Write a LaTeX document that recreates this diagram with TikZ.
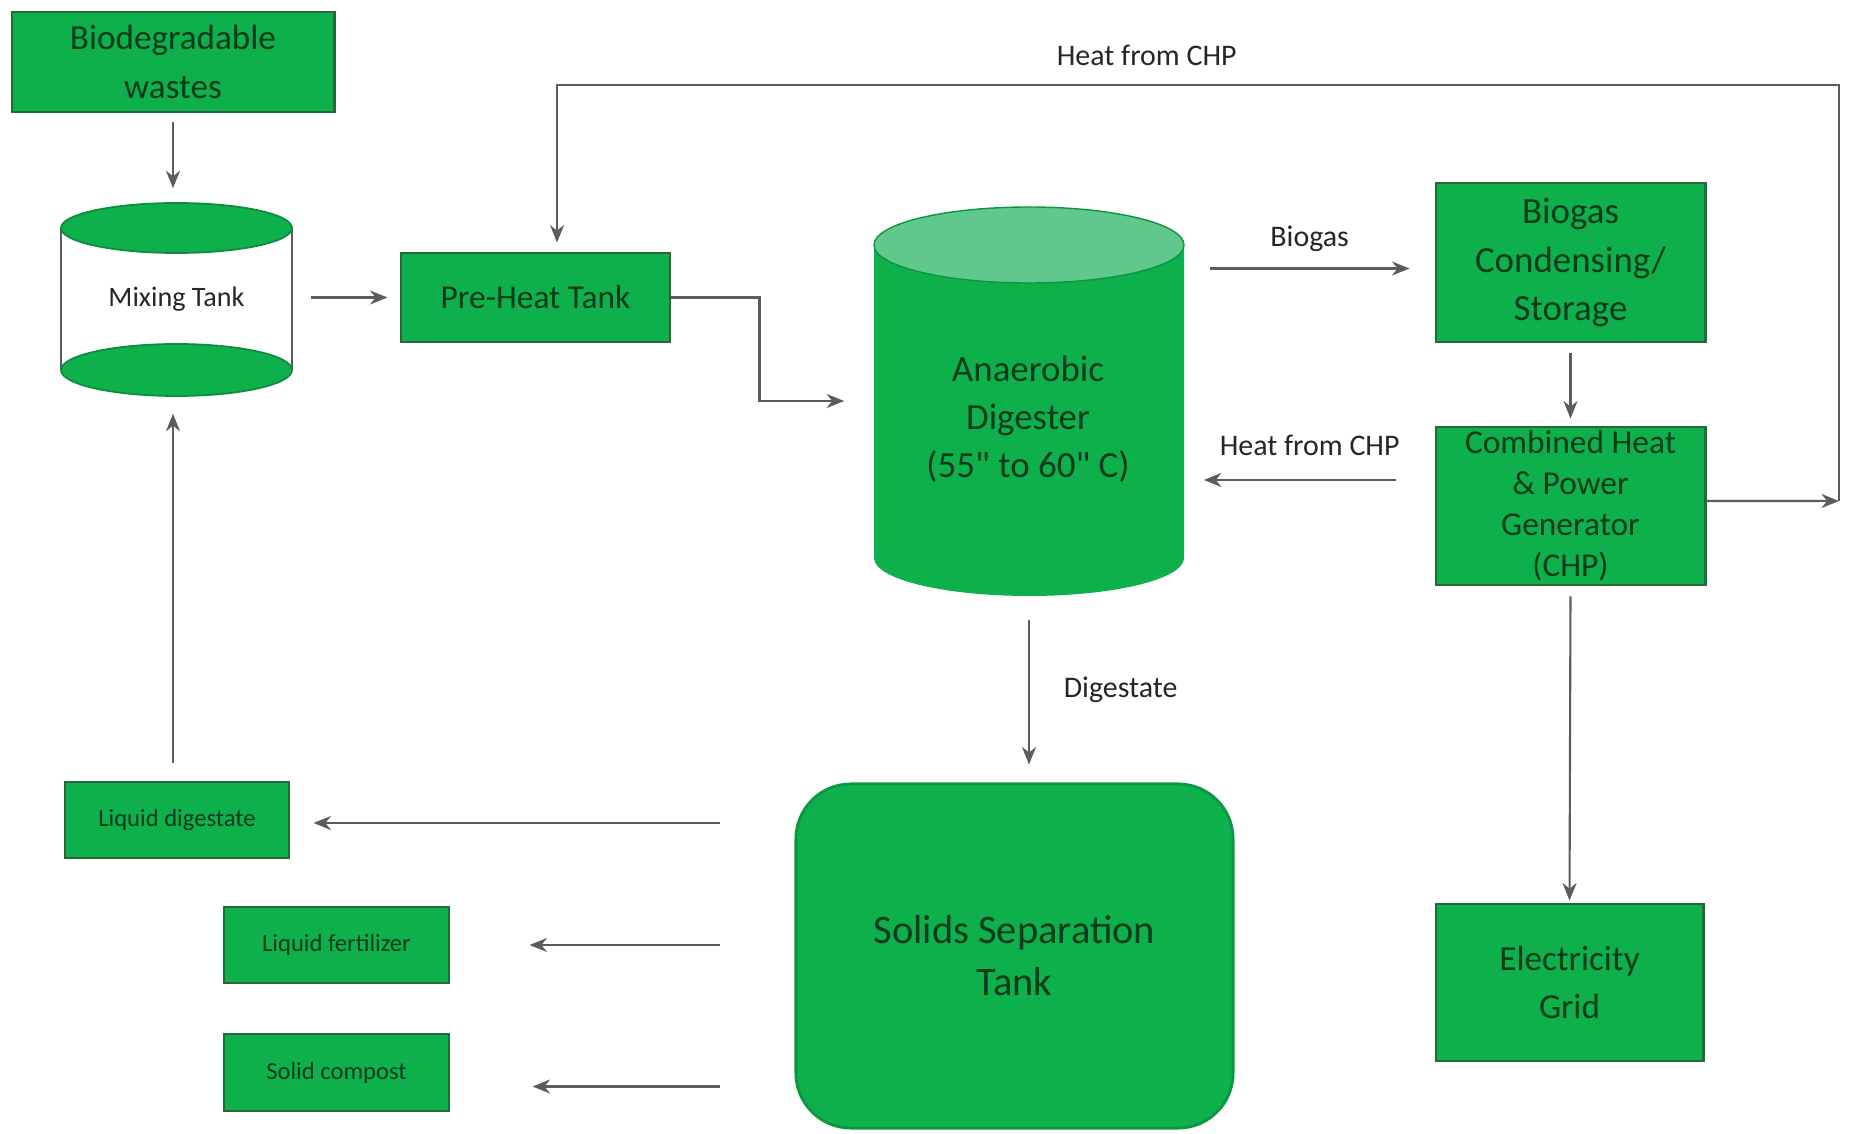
\documentclass[tikz,border=0pt]{standalone}
\usepackage{fontspec}
\setmainfont{Carlito}
\usetikzlibrary{positioning, arrows.meta}
\definecolor{boxgreen}{RGB}{14,176,76}
\definecolor{boxedge}{RGB}{38,104,58}
\definecolor{boxtext}{RGB}{8,58,28}
\definecolor{digtop}{RGB}{96,200,140}
\definecolor{flowgray}{RGB}{92,92,92}

\begin{document}
\begin{tikzpicture}[x=0.01cm, y=0.01cm,
    box/.style={draw=boxedge, fill=boxgreen, line width=0.8pt, text=boxtext, align=center, inner sep=0pt},
    flow/.style={draw=flowgray, line width=0.6pt, -{Stealth[length=5pt,width=4pt]}},
    lbl/.style={font=\fontsize{8.5}{10}\selectfont, text=black!85}]
                \useasboundingbox (0,0) rectangle (1849,-1134);
                % tanks
                \draw[flowgray, line width=0.5pt] (61,-228) -- (61,-370) (292,-228) -- (292,-370);
                \filldraw[fill=boxgreen, draw=boxgreen!80!black, line width=0.5pt] (176.5,-228) ellipse [x radius=115.5, y radius=25];
                \filldraw[fill=boxgreen, draw=boxgreen!80!black, line width=0.5pt] (176.5,-370) ellipse [x radius=115.5, y radius=26];
                \fill[boxgreen] (874,-245) -- (874,-558) arc[start angle=180, end angle=360, x radius=155, y radius=38] -- (1184,-245) -- cycle;
                \filldraw[fill=digtop, draw=boxgreen!85!black, line width=0.4pt] (1029,-245) ellipse [x radius=155, y radius=38];
                \node[minimum width=2.31cm, minimum height=1.93cm, font=\fontsize{8}{10}\selectfont, text=black!85] (mix) at (176.5,-299.5) {Mixing Tank};
                \node[minimum width=3.1cm, minimum height=3.9cm, inner sep=0pt] (dig) at (1029,-401) {};
                \node[align=center, text=boxtext, font=\fontsize{10.5}{13.7}\selectfont] (digtxt) at (1028,-419) {Anaerobic\\Digester\\(55\textquotedbl{} to 60\textquotedbl{} C)};
                % boxes
                \node[box, minimum width=3.22cm, minimum height=1.00cm, font=\fontsize{10}{14}\selectfont] (waste) at (173,-62) {Biodegradable\\wastes};
                \node[box, minimum width=2.69cm, minimum height=0.89cm, font=\fontsize{9.5}{12}\selectfont] (preheat) at (535.5,-297.5) {Pre-Heat Tank};
                \node[box, minimum width=2.69cm, minimum height=1.59cm, font=\fontsize{10.5}{13.7}\selectfont] (biogas) at (1570.5,-262.5) {Biogas\\Condensing/\\Storage};
                \node[box, minimum width=2.69cm, minimum height=1.58cm, font=\fontsize{9.5}{11.7}\selectfont] (chp) at (1570.5,-506) {Combined Heat\\\& Power\\Generator\\(CHP)};
                \node[box, minimum width=2.67cm, minimum height=1.57cm, font=\fontsize{10}{13.7}\selectfont] (grid) at (1569.5,-982.5) {Electricity\\Grid};
                \node[box, draw=boxgreen!85!black, rounded corners=0.55cm, minimum width=4.37cm, minimum height=3.44cm, font=\fontsize{11.5}{14.8}\selectfont] (solids) at (1014.5,-956) {Solids Separation\\Tank};
                \node[box, minimum width=2.24cm, minimum height=0.76cm, font=\fontsize{7}{9}\selectfont] (liqdig) at (177,-820) {Liquid digestate};
                \node[box, minimum width=2.25cm, minimum height=0.76cm, font=\fontsize{7}{9}\selectfont] (liqfert) at (336.5,-945) {Liquid fertilizer};
                \node[box, minimum width=2.25cm, minimum height=0.77cm, font=\fontsize{7}{9}\selectfont] (compost) at (336.5,-1072.5) {Solid compost};
                \coordinate (loop) at (1839,-501);
                \coordinate (ret) at (1839,-85);
                % flows
                \draw[flow, shorten <=0.09cm, shorten >=0.14cm] (waste.south) -- (waste.south |- mix.north);
                \draw[flow, shorten <=0.18cm, shorten >=0.12cm] (mix.east |- preheat.west) -- (preheat.west);
                \draw[flow, shorten >=0.29cm] (preheat.east) -- ++(88,0) |- (dig.west);
                \draw[flow, shorten <=0.25cm, shorten >=0.25cm] ([yshift=-0.06cm]dig.east |- biogas.west) -- ([yshift=-0.06cm]biogas.west) node[midway, above=0.04cm, lbl] {Biogas};
                \draw[flow, shorten <=0.1cm, shorten >=0.07cm] (biogas.south) -- (chp.north);
                \draw[flow, shorten <=0.39cm, shorten >=0.19cm] ([yshift=0.26cm]chp.west) -- ([yshift=0.26cm]chp.west -| dig.east) node[midway, above=0.11cm, lbl] {Heat from CHP};
                \draw[flow] ([yshift=0.05cm]chp.east) -- (loop);
                \draw[flow, shorten >=0.09cm] (loop) -- (ret) -| ([xshift=0.215cm]preheat.north) node[pos=0.27, above=0.06cm, lbl] {Heat from CHP};
                \draw[flow, shorten <=0.1cm, shorten >=0.02cm] (chp.south) -- (grid.north);
                \draw[flow, shorten <=0.23cm, shorten >=0.18cm] (dig.south) -- (dig.south |- solids.north) node[midway, right=0.22cm, lbl] {Digestate};
                \draw[flow, shorten <=0.74cm, shorten >=0.23cm] ([yshift=-0.03cm]solids.west |- liqdig) -- ([yshift=-0.03cm]liqdig.east);
                \draw[flow, shorten <=0.74cm, shorten >=0.79cm] (solids.west |- liqfert) -- (liqfert.east);
                \draw[flow, shorten <=0.74cm, shorten >=0.82cm] ([yshift=-0.14cm]solids.west |- compost) -- ([yshift=-0.14cm]compost.east);
                \draw[flow, shorten <=0.18cm, shorten >=0.17cm] ([xshift=-0.04cm]liqdig.north) -- ([xshift=-0.04cm]liqdig.north |- mix.south);
            \end{tikzpicture}
\end{document}
